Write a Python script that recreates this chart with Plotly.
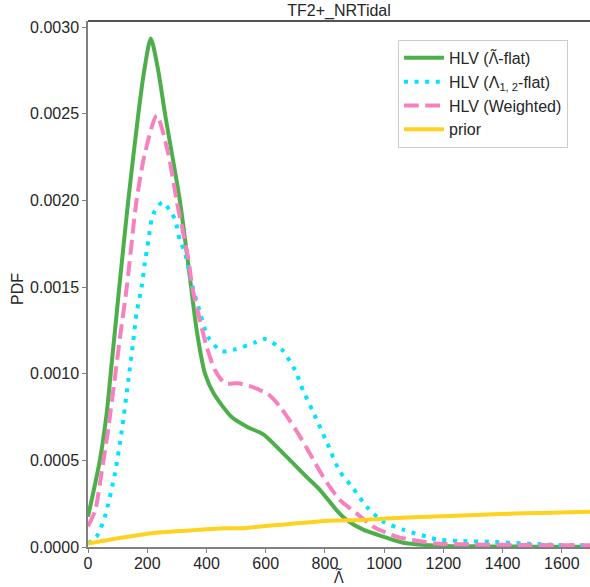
import plotly.graph_objects as go

# ---- data ----
green_x = [0, 40, 63, 80, 97, 108, 136, 170, 190, 212, 237, 260, 310, 348, 367, 395, 423, 485,
           541, 592, 665, 738, 783, 839, 873, 929, 997, 1064, 1154, 1200, 1300, 1400, 1500, 1600, 1700]
green_y = [0.000175, 0.0005, 0.00077, 0.00106, 0.00135, 0.00154, 0.002, 0.0025, 0.00275, 0.002934,
           0.00275, 0.0025, 0.002, 0.0015, 0.00125, 0.001, 0.00089, 0.00075, 0.00069, 0.00065,
           0.00053, 0.000405, 0.00033, 0.000213, 0.000156, 0.0001, 0.00006, 0.000025, 0.00001,
           0.000006, 0.000004, 0.000003, 0.000002, 0.000002, 0.000001]

cyan_x = [0, 29, 57, 91, 114, 136, 153, 164, 181, 192, 204, 215, 226, 252, 277, 294, 310, 327,
          350, 372, 406, 451, 496, 564, 597, 654, 699, 727, 760, 805, 851, 896, 941, 997, 1064,
          1104, 1143, 1177, 1250, 1363, 1475, 1587, 1700]
cyan_y = [0.00002, 0.00006, 0.000175, 0.000425, 0.00067, 0.00096, 0.00119, 0.00135, 0.0015,
          0.00164, 0.00177, 0.00189, 0.00194, 0.00199, 0.00194, 0.00189, 0.00177, 0.0017,
          0.00152, 0.00139, 0.00121, 0.00113, 0.00114, 0.00118, 0.0012, 0.00114, 0.00102,
          0.0009, 0.00078, 0.00061, 0.000434, 0.000338, 0.000232, 0.000146, 0.0001, 0.000079,
          0.00006, 0.000044, 0.000035, 0.00003, 0.00002, 0.000012, 0.00001]

pink_x = [0, 24, 46, 69, 91, 108, 131, 164, 192, 232, 271, 299, 339, 352, 372, 400, 429, 462,
          505, 552, 609, 648, 704, 749, 794, 851, 907, 963, 1042, 1098, 1177, 1300, 1450, 1600, 1700]
pink_y = [0.00012, 0.00021, 0.00043, 0.00069, 0.00098, 0.00121, 0.0015, 0.002, 0.00227, 0.00249,
          0.00227, 0.002, 0.00166, 0.0015, 0.00135, 0.00116, 0.00102, 0.000945, 0.000945,
          0.000925, 0.00088, 0.00081, 0.00067, 0.00054, 0.000405, 0.00027, 0.000194, 0.000117,
          0.00006, 0.00004, 0.00002, 0.000015, 0.000012, 0.00001, 0.00001]

prior_x = [0, 102, 215, 327, 462, 519, 592, 665, 704, 817, 929, 1042, 1154, 1222, 1391, 1560, 1700]
prior_y = [0.00002, 0.00005, 0.00008, 0.000094, 0.000108, 0.000108, 0.00012, 0.00013, 0.000137,
           0.000152, 0.000156, 0.000167, 0.000175, 0.000179, 0.00019, 0.000198, 0.000204]

LT = '<span style="font-family:Open Sans">Λ̃</span>'
names = ["HLV (" + LT + "-flat)", "HLV (Λ<sub>1, 2</sub>-flat)", "HLV (Weighted)", "prior"]
x_ticks = [0, 200, 400, 600, 800, 1000, 1200, 1400, 1600]
y_ticks = [0.0, 0.0005, 0.0010, 0.0015, 0.0020, 0.0025, 0.0030]

FONT = "Liberation Sans, Arial, sans-serif"
TXT = "#262626"

fig = go.Figure()
fig.add_trace(go.Scatter(x=green_x, y=green_y, mode="lines", name=names[0],
                         line=dict(color="#4DAF4A", width=4, shape="spline", smoothing=0.7)))
fig.add_trace(go.Scatter(x=cyan_x, y=cyan_y, mode="lines", name=names[1],
                         line=dict(color="#00E5FF", width=4, dash="4px,6.6px", shape="spline", smoothing=0.7)))
fig.add_trace(go.Scatter(x=pink_x, y=pink_y, mode="lines", name=names[2],
                         line=dict(color="#F781BF", width=4, dash="14.8px,6.4px", shape="spline", smoothing=0.7)))
fig.add_trace(go.Scatter(x=prior_x, y=prior_y, mode="lines", name=names[3],
                         line=dict(color="#FFD21F", width=4, shape="spline", smoothing=0.7)))

fig.update_layout(
    width=590, height=587,
    margin=dict(l=88, r=0, t=21, b=40, autoexpand=False),
    paper_bgcolor="white", plot_bgcolor="white",
    font=dict(family=FONT, size=16, color=TXT),
    title=dict(text="TF2+_NRTidal", xref="paper", x=0.5, xanchor="center",
               yref="container", y=0.983, yanchor="middle",
               font=dict(size=16, color=TXT)),
    showlegend=True,
    legend=dict(x=0.6175, y=0.964, xanchor="left", yanchor="top",
                bgcolor="rgba(255,255,255,0.8)", bordercolor="#CCCCCC", borderwidth=1,
                font=dict(size=16, color=TXT), tracegroupgap=0, itemwidth=40),
    annotations=[
        dict(text="PDF", xref="paper", yref="paper", x=-0.14, y=0.49, xanchor="center",
             yanchor="middle", textangle=-90, showarrow=False, font=dict(size=16, color=TXT)),
        dict(text="Λ̃", xref="paper", yref="paper", x=0.5, y=-0.057, xanchor="center",
             yanchor="middle", showarrow=False,
             font=dict(size=16, color=TXT, family="Open Sans")),
    ],
)
fig.update_xaxes(range=[0, 1695], tickvals=x_ticks, ticks="outside", ticklen=4, tickwidth=1.2,
                 tickcolor="#808080", showline=True, linecolor="#808080", linewidth=1.5,
                 showgrid=False, zeroline=False, automargin=False, ticklabelstandoff=-3,
                 tickfont=dict(size=16, color=TXT))
fig.update_yaxes(range=[0, 0.003035], tickvals=y_ticks, tickformat=".4f", ticks="outside",
                 ticklen=4, tickwidth=1.2, tickcolor="#808080", showline=True,
                 linecolor="#808080", linewidth=1.5, showgrid=False, zeroline=False,
                 automargin=False, tickfont=dict(size=16, color=TXT))
fig.add_shape(type="line", xref="paper", yref="paper", x0=0, x1=1, y0=1, y1=1,
              line=dict(color="#1a1a1a", width=1.5))

fig.write_html("out.html", config={"displayModeBar": False},
               post_script="document.body.style.margin='0px';")
